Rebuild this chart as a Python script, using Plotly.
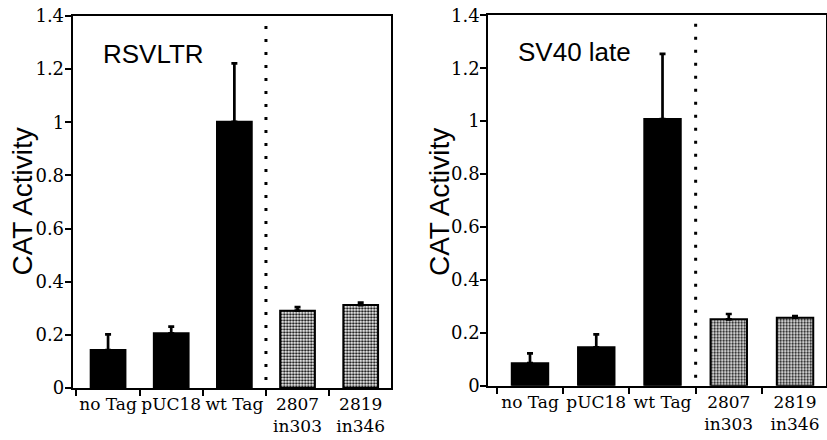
import plotly.graph_objects as go

categories = ["no Tag", "pUC18", "wt Tag", "2807<br>in303", "2819<br>in346"]
rsv_values = [0.143, 0.206, 1.002, 0.291, 0.312]
rsv_err = [0.059, 0.025, 0.220, 0.013, 0.009]
sv40_values = [0.085, 0.145, 1.008, 0.251, 0.257]
sv40_err = [0.037, 0.049, 0.246, 0.020, 0.006]
panel_titles = ["RSVLTR", "SV40 late"]
y_title = "CAT Activity"
y_ticks = [0, 0.2, 0.4, 0.6, 0.8, 1, 1.2, 1.4]

bar_colors = ["#000000", "#000000", "#000000", "#000000", "#000000"]
pattern_bg = ["#000000", "#000000", "#000000", "#9a9a9a", "#9a9a9a"]
bar_patterns = ["", "", "", ".", "."]

SERIF = "DejaVu Serif"
SANS = "Liberation Sans, Arial, sans-serif"

fig = go.Figure()
for i, (vals, errs) in enumerate([(rsv_values, rsv_err), (sv40_values, sv40_err)]):
    sfx = "" if i == 0 else "2"
    fig.add_trace(go.Bar(
        x=categories, y=vals, width=0.55,
        marker=dict(color=bar_colors, line=dict(color="#000", width=2),
                    pattern=dict(shape=bar_patterns, fgcolor="#000", bgcolor=pattern_bg,
                                 size=3, solidity=0.45)),
        error_y=dict(type="data", symmetric=False, array=errs, arrayminus=[0]*len(errs),
                     color="#000", thickness=2.7, width=3),
        xaxis="x" + sfx, yaxis="y" + sfx, showlegend=False,
    ))

axis_common = dict(showline=True, linecolor="#000", linewidth=2, mirror=True,
                   ticks="outside", ticklen=6, tickwidth=2, tickcolor="#000",
                   showgrid=False, zeroline=False, automargin=False)

fig.update_layout(
    template="none",
    width=827, height=440,
    margin=dict(l=0, r=0, t=0, b=0),
    paper_bgcolor="#fff", plot_bgcolor="#fff",
    xaxis=dict(domain=[0.0879, 0.4728], type="category", range=[-0.56, 4.48],
               tickson="boundaries", anchor="y", tickangle=0,
               tickfont=dict(family=SERIF, size=17, color="#000"), **axis_common),
    yaxis=dict(domain=[0.1182, 0.9636], range=[0, 1.4], tickvals=y_ticks, anchor="x",
               ticklabelstandoff=-3,
               tickfont=dict(family=SERIF, size=18, color="#000"), **axis_common),
    xaxis2=dict(domain=[0.5904, 0.999], type="category", range=[-0.63, 4.47],
                tickson="boundaries", anchor="y2", tickangle=0,
                tickfont=dict(family=SERIF, size=17, color="#000"), **axis_common),
    yaxis2=dict(domain=[0.1234, 0.9652], range=[0, 1.4], tickvals=y_ticks, anchor="x2",
                ticklabelstandoff=-3,
                tickfont=dict(family=SERIF, size=18, color="#000"), **axis_common),
    bargap=0.45,
)

for i, sfx in enumerate(["", "2"]):
    fig.add_shape(type="line", xref="x" + sfx, yref="y" + sfx, x0=2.5, x1=2.5,
                  y0=0.03, y1=1.38, line=dict(color="#000", width=3, dash="3px,10px"))

# y-axis titles (rotated) positioned in paper coordinates
for xpos, ypos in [(21.5 / 827, 1 - 202 / 440), (439 / 827, 1 - 202 / 440)]:
    fig.add_annotation(xref="paper", yref="paper", x=xpos, y=ypos, text=y_title,
                       textangle=-90, showarrow=False, xanchor="center", yanchor="middle",
                       font=dict(family=SANS, size=28, color="#000"))

fig.add_annotation(xref="x", yref="y", x=-0.105, y=1.258, text=panel_titles[0],
                   showarrow=False, xanchor="left", yanchor="middle",
                   font=dict(family=SANS, size=26, color="#000"))
fig.add_annotation(xref="x2", yref="y2", x=-0.21, y=1.262, text=panel_titles[1],
                   showarrow=False, xanchor="left", yanchor="middle",
                   font=dict(family=SANS, size=26, color="#000"))

fig.write_html("out.html")
